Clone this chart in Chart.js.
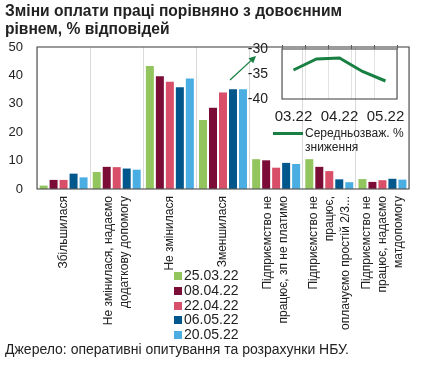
<!DOCTYPE html>
<html>
<head>
<meta charset="utf-8">
<script src="https://cdn.jsdelivr.net/npm/chart.js@4"></script>
<style>
  body { margin: 0; background: #fff; font-family: 'Liberation Sans', Arial, sans-serif; color: #222; }
  #wrap { position: relative; width: 427px; height: 370px; overflow: hidden; }
  #title { position: absolute; left: 5px; top: 2px; font-weight: bold; font-size: 15.6px; line-height: 18px; }
  #main { position: absolute; left: 0; top: 0; }
  #insetBox { position: absolute; left: 240px; top: 40px; width: 170px; height: 90px; }
  #insetLine { position: absolute; left: 273px; top: 132px; width: 30px; height: 3px; background: #178042; }
  #insetText { position: absolute; left: 305px; top: 126px; font-size: 12px; line-height: 14px; }
  #legend { position: absolute; left: 174px; top: 268px; font-size: 14px; line-height: 14.8px; }
  #legend span.box { display: inline-block; width: 8px; height: 8px; margin-right: 2px; }
  #source { position: absolute; left: 5px; top: 341px; font-size: 14px; }
</style>
</head>
<body>
<div id="wrap">
  <canvas id="main" width="427" height="370"></canvas>
  <div id="title">Зміни оплати праці порівняно з довоєнним<br>рівнем, % відповідей</div>
  <div id="insetBox"><canvas id="inset" width="170" height="90"></canvas></div>
  <div id="insetLine"></div>
  <div id="insetText">Середньозваж. %<br>зниження</div>
  <div id="legend"></div>
  <div id="source">Джерело: оперативні опитування та розрахунки НБУ.</div>
</div>
<script>
'use strict';

// categories (multi-line labels)
let categories = [
  ['Збільшилася'],
  ['Не змінилася, надаємо', 'додаткову допомогу'],
  ['Не змінилася'],
  ['Зменшилася'],
  ['Підприємство не', 'працює, зп не платимо'],
  ['Підприємство не', 'працює,', 'оплачуємо простій 2/3...'],
  ['Підприємство не', 'працює, надаємо', 'матдопомогу']
];

// survey dates
let dates = ['25.03.22', '08.04.22', '22.04.22', '06.05.22', '20.05.22'];

// series values, % of answers
let s2503 = [1.2, 6.0, 43.3, 24.3, 10.5, 10.5, 3.5];
let s0804 = [3.2, 7.8, 39.7, 28.6, 10.1, 7.8, 2.5];
let s2204 = [3.2, 7.7, 37.8, 34.0, 7.5, 6.3, 3.1];
let s0605 = [5.4, 7.2, 35.8, 35.1, 9.2, 3.4, 3.6];
let s2005 = [4.1, 6.8, 38.9, 35.1, 8.8, 2.4, 3.3];

// inset: weighted average decrease
let avgDecrease = [-34.2, -32.0, -31.8, -34.5, -36.4];
let insetTicks = ['03.22', '', '04.22', '', '05.22'];

let colors = ['#92c55e', '#7b0c36', '#d94f69', '#00578c', '#4aaee3'];
let allSeries = [s2503, s0804, s2204, s0605, s2005];

let datasets = [];
for (let i = 0; i < allSeries.length; i++) {
  datasets.push({
    label: dates[i],
    data: allSeries[i],
    backgroundColor: colors[i],
    categoryPercentage: 0.94,
    barPercentage: 0.8
  });
}

// no extra padding from tick labels, layout padding decides
function noPad(axis) {
  axis.paddingTop = 0;
  axis.paddingBottom = 0;
  axis.paddingLeft = 0;
  axis.paddingRight = 0;
}

// frame round the plot area
let framePlugin = {
  id: 'frame',
  afterDraw(chart) {
    let a = chart.chartArea;
    let ctx = chart.ctx;
    ctx.save();
    ctx.strokeStyle = '#595959';
    ctx.lineWidth = 1.2;
    ctx.strokeRect(a.left, a.top, a.right - a.left, a.bottom - a.top);
    ctx.restore();
  }
};

// centred multi-line rotated category labels
let xLabelPlugin = {
  id: 'xLabels',
  afterDraw(chart) {
    let scale = chart.scales.x;
    let ctx = chart.ctx;
    let lh = 16;
    ctx.save();
    ctx.fillStyle = '#222';
    ctx.font = '12px "Liberation Sans", Arial, sans-serif';
    ctx.textAlign = 'right';
    ctx.textBaseline = 'middle';
    for (let i = 0; i < categories.length; i++) {
      let lines = categories[i];
      let x = scale.getPixelForTick(i);
      ctx.save();
      ctx.translate(x, chart.chartArea.bottom + 7);
      ctx.rotate(-Math.PI / 2);
      for (let j = 0; j < lines.length; j++) {
        ctx.fillText(lines[j], 0, (j - (lines.length - 1) / 2) * lh);
      }
      ctx.restore();
    }
    ctx.restore();
  }
};

// arrow pointing to the inset
let arrowPlugin = {
  id: 'arrow',
  afterDraw(chart) {
    let ctx = chart.ctx;
    let x1 = 230, y1 = 80, x2 = 256, y2 = 56;
    let ang = Math.atan2(y2 - y1, x2 - x1);
    ctx.save();
    ctx.strokeStyle = '#178042';
    ctx.fillStyle = '#178042';
    ctx.lineWidth = 1.3;
    ctx.beginPath();
    ctx.moveTo(x1, y1);
    ctx.lineTo(x2 - 5 * Math.cos(ang), y2 - 5 * Math.sin(ang));
    ctx.stroke();
    ctx.beginPath();
    ctx.moveTo(x2, y2);
    ctx.lineTo(x2 - 7 * Math.cos(ang) + 3.5 * Math.sin(ang), y2 - 7 * Math.sin(ang) - 3.5 * Math.cos(ang));
    ctx.lineTo(x2 - 7 * Math.cos(ang) - 3.5 * Math.sin(ang), y2 - 7 * Math.sin(ang) + 3.5 * Math.cos(ang));
    ctx.closePath();
    ctx.fill();
    ctx.restore();
  }
};

Chart.defaults.font.family = '"Liberation Sans", Arial, sans-serif';
Chart.defaults.color = '#222';

let ctx = document.getElementById('main').getContext('2d');
new Chart(ctx, {
  type: 'bar',
  data: {
    labels: categories.map(c => c.join(' ')),
    datasets: datasets
  },
  options: {
    responsive: false,
    animation: false,
    layout: { padding: { top: 47, right: 18, bottom: 0, left: 0 } },
    plugins: {
      legend: { display: false },
      tooltip: { enabled: false }
    },
    scales: {
      x: {
        grid: { color: '#d9d9d9', offset: true, drawTicks: false },
        border: { display: false },
        ticks: { display: false },
        afterFit: (axis) => { axis.height = 181; noPad(axis); }
      },
      y: {
        min: 0,
        max: 50,
        ticks: { stepSize: 10, padding: 14, font: { size: 13 } },
        grid: { display: false, drawTicks: false },
        border: { display: false },
        afterFit: (axis) => { axis.width = 37; noPad(axis); }
      }
    }
  },
  plugins: [framePlugin, xLabelPlugin, arrowPlugin]
});

let ctxInset = document.getElementById('inset').getContext('2d');
new Chart(ctxInset, {
  type: 'line',
  data: {
    labels: dates,
    datasets: [{
      label: 'Середньозваж. % зниження',
      data: avgDecrease,
      borderColor: '#178042',
      borderWidth: 3,
      pointRadius: 0,
      tension: 0
    }]
  },
  options: {
    responsive: false,
    animation: false,
    layout: { padding: { top: 9, right: 13, bottom: 0, left: 0 } },
    plugins: {
      legend: { display: false },
      tooltip: { enabled: false }
    },
    scales: {
      x: {
        offset: true,
        grid: { color: '#e3e3e3', offset: true, drawTicks: false },
        border: { display: false },
        ticks: {
          autoSkip: false,
          maxRotation: 0,
          padding: 9,
          font: { size: 15 },
          callback: (v, i) => insetTicks[i]
        },
        afterFit: (axis) => { axis.height = 31; noPad(axis); }
      },
      // tick marks along the top edge
      xTop: {
        type: 'category',
        position: 'top',
        offset: true,
        grid: { offset: true, drawOnChartArea: false, tickLength: 4, color: '#595959' },
        border: { display: false },
        ticks: { display: false },
        afterFit: (axis) => { axis.height = 0; noPad(axis); }
      },
      y: {
        min: -40,
        max: -30,
        ticks: { stepSize: 5, autoSkip: false, padding: 14, font: { size: 14 } },
        grid: { display: false, drawTicks: false },
        border: { display: false },
        afterFit: (axis) => { axis.width = 42; noPad(axis); }
      }
    }
  },
  plugins: [framePlugin]
});

// legend for the bar series
let legend = document.getElementById('legend');
for (let i = 0; i < dates.length; i++) {
  let row = document.createElement('div');
  row.innerHTML = '<span class="box" style="background:' + colors[i] + '"></span>' + dates[i];
  legend.appendChild(row);
}
</script>
</body>
</html>
